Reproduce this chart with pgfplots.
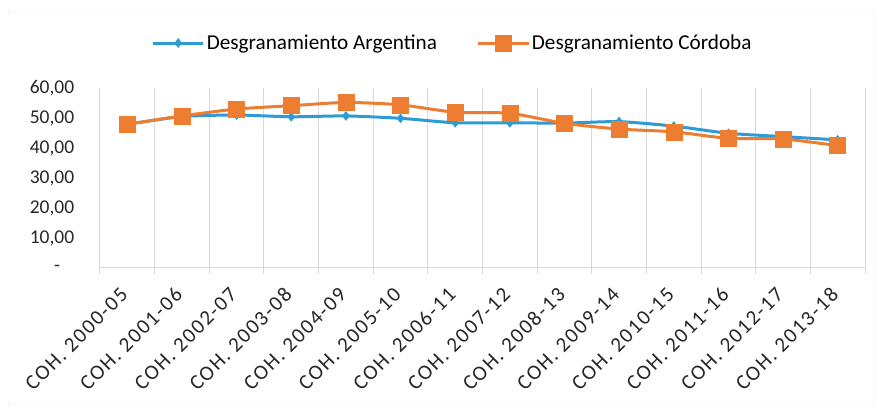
\documentclass[border=0pt]{standalone}
\usepackage{pgfplots}
\pgfplotsset{compat=1.18}
\usepackage{fontspec}
\setmainfont{Carlito}
\newfontfamily\xlabfont[LetterSpace=8]{Carlito}
\definecolor{cblue}{HTML}{2E9AD6}
\definecolor{corange}{HTML}{ED7D31}
\definecolor{cgrid}{HTML}{D9D9D9}
\definecolor{ctext}{HTML}{262626}
\begin{document}
\begin{tikzpicture}[x=1pt,y=1pt]
\useasboundingbox (-100,-143) rectangle (779,268);
\draw[black!10, rounded corners=3pt] (-92,-137) rectangle (775,257);
\begin{axis}[
  at={(0,0)}, anchor=south west,
  scale only axis, width=765pt, height=180pt,
  xmin=-0.5, xmax=13.5, ymin=0, ymax=60,
  axis x line*=bottom, axis y line*=left,
  y axis line style={draw=none},
  x axis line style={cgrid, line width=1pt},
  xtick={0,...,13},
  xticklabels={COH. 2000-05,COH. 2001-06,COH. 2002-07,COH. 2003-08,COH. 2004-09,COH. 2005-10,COH. 2006-11,COH. 2007-12,COH. 2008-13,COH. 2009-14,COH. 2010-15,COH. 2011-16,COH. 2012-17,COH. 2013-18},
  major x tick style={draw=none},
  minor xtick={-0.5,0.5,...,13.5},
  minor x tick style={cgrid, line width=1pt},
  minor tick length=6pt, tick align=outside,
  xminorgrids, minor x grid style={cgrid, line width=1pt},
  ytick={0,10,...,60},
  yticklabels={{-\rule{14pt}{0pt}},{10,00},{20,00},{30,00},{40,00},{50,00},{60,00}},
  major y tick style={draw=none},
  yticklabel style={font=\fontsize{19.5}{22}\selectfont, text=ctext, xshift=-18pt},
  xticklabel style={font=\xlabfont\fontsize{21}{24}\selectfont, text=ctext, xshift=-3pt, yshift=-19pt, rotate=45, anchor=east, inner sep=0pt},
  legend columns=2,
  legend style={draw=none, fill=none, at={(0.461,1.25)}, anchor=center,
    font=\fontsize{21.2}{24}\selectfont, text=black,
    /tikz/every even column/.append style={column sep=38pt},
    nodes={inner xsep=2pt}},
  legend image code/.code={\draw[mark repeat=2,mark phase=2,#1] plot coordinates {(0pt,0pt) (25pt,0pt) (50pt,0pt)};},
]
\addplot[cblue, line width=3pt, smooth, tension=0.35, mark=diamond*, mark size=4.5pt, mark options={solid, line width=0.5pt}]
coordinates {(0,47.9) (1,50.5) (2,51.0) (3,50.4) (4,50.7) (5,49.9) (6,48.4) (7,48.4) (8,48.3) (9,48.8) (10,47.3) (11,44.9) (12,43.8) (13,42.7)};
\addlegendentry{Desgranamiento Argentina}
\addplot[corange, line width=3pt, smooth, tension=0.35, mark=square*, mark size=8pt, mark options={solid, line width=0.5pt}]
coordinates {(0,47.9) (1,50.7) (2,53.0) (3,54.1) (4,55.2) (5,54.4) (6,51.9) (7,51.6) (8,48.2) (9,46.3) (10,45.4) (11,43.2) (12,43.0) (13,40.8)};
\addlegendentry{Desgranamiento Córdoba}
\end{axis}
\end{tikzpicture}
\end{document}
